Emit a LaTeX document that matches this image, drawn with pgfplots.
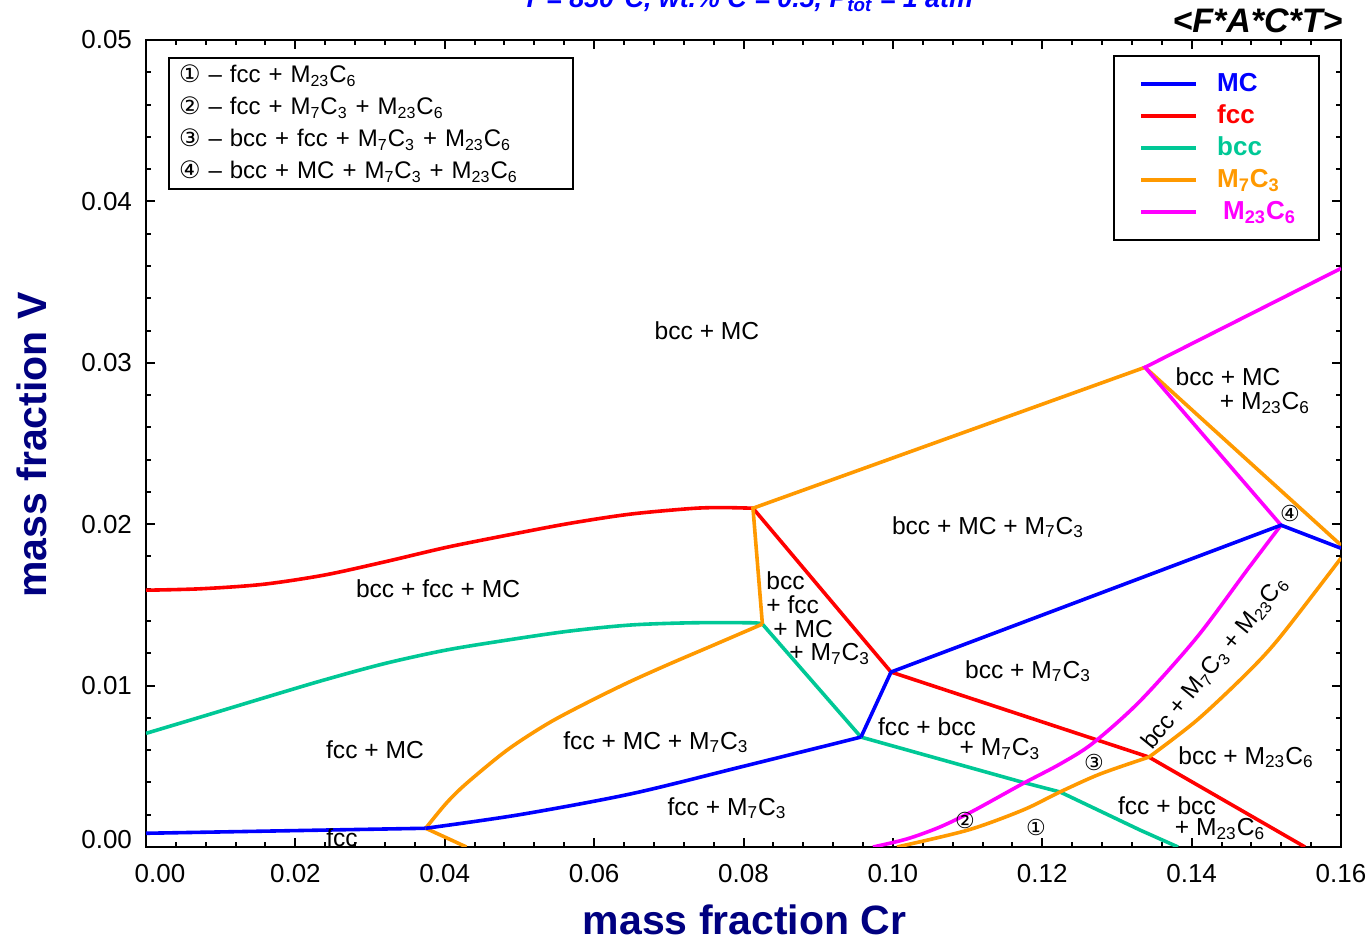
\documentclass[border=0pt]{standalone}
\usepackage{fontspec}
\setmainfont{Liberation Sans}
\newfontfamily\sym{DejaVu Sans}
\usepackage{pgfplots}
\pgfplotsset{compat=1.18}
\definecolor{cMC}{RGB}{0,0,255}
\definecolor{cfcc}{RGB}{255,0,0}
\definecolor{cbcc}{RGB}{0,200,150}
\definecolor{cMs}{RGB}{255,153,0}
\definecolor{cMt}{RGB}{255,0,255}
\definecolor{navy}{RGB}{0,0,128}
\newcommand{\MsC}{M\textsubscript{7}C\textsubscript{3}}
\newcommand{\MtC}{M\textsubscript{23}C\textsubscript{6}}
\newcommand{\lab}{\fontsize{12.3}{14.5}\selectfont}
\newcommand{\tnum}[1]{\pgfmathprintnumber[fixed,fixed zerofill,precision=2]{#1}}
\begin{document}
\begin{tikzpicture}
\path[use as bounding box] (-73pt,-47pt) rectangle (613pt,423.5pt);
\begin{axis}[
  name=ax,
  scale only axis, width=597.5pt, height=403.5pt,
  xmin=0, xmax=0.16, ymin=0, ymax=0.05,
  xtick={0,0.02,0.04,0.06,0.08,0.10,0.12,0.14,0.16},
  ytick={0,0.01,0.02,0.03,0.04,0.05},
  scaled ticks=false,
  /pgf/number format/assume math mode=true,
  xticklabel={\ifnum\ticknum=0\hspace*{14pt}\fi\tnum{\tick}},
  yticklabel={\ifnum\ticknum=0\raisebox{3.5pt}[\height][\depth]{\tnum{\tick}}\else\tnum{\tick}\fi},
  ticklabel style={font=\fontsize{13}{15}\selectfont},
  xticklabel style={yshift=-5pt},
  yticklabel style={xshift=-3.5pt},
  minor x tick num=4, minor y tick num=4,
  tick align=inside,
  major tick length=4.5pt, minor tick length=2.5pt,
  every tick/.style={black, line width=1pt},
  axis line style={line width=1.3pt},
  xlabel={mass fraction Cr},
  ylabel={mass fraction V},
  xlabel style={font=\fontsize{20.5}{24}\selectfont\bfseries, color=navy, at={(axis description cs:0.501,-0.0905)}, anchor=center},
  ylabel style={font=\fontsize{20.5}{24}\selectfont\bfseries, color=navy, at={(axis description cs:-0.0954,0.498)}, anchor=center},
  legend image code/.code={\path (0pt,0pt); \draw[#1] (3pt,0pt) -- (30.5pt,0pt);},
  legend cell align=left,
  legend style={at={(0.9824,0.9814)}, anchor=north east, draw=black, line width=1pt,
    font=\fontsize{13}{15}\selectfont\bfseries,
    inner xsep=10pt, inner ysep=6pt, column sep=8pt,
    nodes={inner sep=1.5pt, text height=10pt, text depth=3pt}},
]
% legend
\addlegendimage{cMC, line width=1.8pt}\addlegendentry{\textcolor{cMC}{MC}}
\addlegendimage{cfcc, line width=1.8pt}\addlegendentry{\textcolor{cfcc}{fcc}}
\addlegendimage{cbcc, line width=1.8pt}\addlegendentry{\textcolor{cbcc}{bcc}}
\addlegendimage{cMs, line width=1.8pt}\addlegendentry{\textcolor{cMs}{\MsC}}
\addlegendimage{cMt, line width=1.8pt}\addlegendentry{\textcolor{cMt}{\hspace{3pt}\MtC}}

% fcc (red)
\addplot[cfcc, line width=1.8pt, smooth, forget plot] coordinates {
(0,0.01591) (0.0074,0.0160) (0.01558,0.01627) (0.02379,0.01684) (0.03199,0.01767) (0.04018,0.01856)
(0.04837,0.01932) (0.05658,0.02004) (0.06478,0.02062) (0.07297,0.02097) (0.0770,0.02103) (0.08127,0.02099)};
\addplot[cfcc, line width=1.8pt, forget plot] coordinates {
(0.08127,0.02099) (0.09975,0.01084) (0.13429,0.00557) (0.15518,0)};

% bcc (teal)
\addplot[cbcc, line width=1.8pt, smooth, forget plot] coordinates {
(0,0.00704) (0.0078,0.00812) (0.01558,0.00921) (0.02379,0.01034) (0.03199,0.01137) (0.04018,0.0122)
(0.04837,0.01282) (0.05658,0.01337) (0.06478,0.01375) (0.07297,0.01389) (0.08116,0.01389) (0.08253,0.01381)};
\addplot[cbcc, line width=1.8pt, forget plot] coordinates {
(0.08253,0.01381) (0.09573,0.00681) (0.11729,0.00402) (0.12238,0.00341) (0.13309,0.00105) (0.13818,0)};

% M7C3 (orange)
\addplot[cMs, line width=1.8pt, forget plot] coordinates {
(0.16,0.0187) (0.13376,0.02972) (0.08127,0.02099) (0.08253,0.01381)};
\addplot[cMs, line width=1.8pt, smooth, forget plot] coordinates {
(0.03745,0.00116) (0.04018,0.0027) (0.04291,0.00394) (0.04837,0.00601) (0.05385,0.00766)
(0.05931,0.0090) (0.06478,0.01024) (0.07024,0.01137) (0.0757,0.01245) (0.08253,0.01381)};
\addplot[cMs, line width=1.8pt, forget plot] coordinates {(0.03745,0.00116) (0.0429,0)};
\addplot[cMs, line width=1.8pt, smooth, forget plot] coordinates {
(0.10055,0) (0.11006,0.00105) (0.11742,0.00229) (0.12238,0.00341) (0.12773,0.00452) (0.13429,0.00557)};
\addplot[cMs, line width=1.8pt, smooth, forget plot] coordinates {
(0.13429,0.00557) (0.14072,0.00786) (0.14741,0.01077) (0.15183,0.0130) (0.16,0.0179)};

% M23C6 (magenta)
\addplot[cMt, line width=1.8pt, forget plot] coordinates {
(0.16,0.03585) (0.13376,0.02972) (0.15197,0.01994)};
\addplot[cMt, line width=1.8pt, smooth, forget plot] coordinates {
(0.09734,0) (0.10189,0.0005) (0.10631,0.00124) (0.11073,0.00223) (0.11729,0.0039) (0.12238,0.00514)
(0.1268,0.00644) (0.13309,0.00904) (0.14072,0.0130) (0.14741,0.01715) (0.15197,0.01994)};

% MC (blue)
\addplot[cMC, line width=1.8pt, forget plot] coordinates {(0,0.00085) (0.03745,0.00116)};
\addplot[cMC, line width=1.8pt, smooth, forget plot] coordinates {
(0.03745,0.00116) (0.0500,0.0020) (0.0650,0.0033) (0.0800,0.0050) (0.09573,0.00681)};
\addplot[cMC, line width=1.8pt, forget plot] coordinates {
(0.09573,0.00681) (0.09975,0.01084) (0.15197,0.01994) (0.16,0.01851)};

% note box
\node[draw, line width=1pt, anchor=north west, inner xsep=5pt, inner ysep=2.5pt, align=left,
  text width=192pt, minimum height=65.5pt, fill=white, font=\fontsize{12}{16}\selectfont]
  at (axis cs:0.00295,0.04892)
  {{\sym ①} -- fcc + \MtC\\
   {\sym ②} -- fcc + \MsC{} + \MtC\\
   {\sym ③} -- bcc + fcc + \MsC{} + \MtC\\
   {\sym ④} -- bcc + MC + \MsC{} + \MtC};

% region labels
\node[font=\lab] at (axis cs:0.07511,0.03201) {bcc + MC};
\node[font=\lab] at (axis cs:0.11274,0.01981) {bcc + MC + \MsC};
\node[font=\lab] at (axis cs:0.0391,0.01598) {bcc + fcc + MC};
\node[font=\lab, anchor=west, inner sep=0pt] at (axis cs:0.08301,0.01647) {bcc};
\node[font=\lab, anchor=west, inner sep=0pt] at (axis cs:0.08301,0.01498) {+ fcc};
\node[font=\lab, anchor=west, inner sep=0pt] at (axis cs:0.08395,0.0135) {+ MC};
\node[font=\lab, anchor=west, inner sep=0pt] at (axis cs:0.08609,0.01195) {+ \MsC};
\node[font=\lab] at (axis cs:0.11809,0.0109) {bcc + \MsC};
\node[font=\lab] at (axis cs:0.03066,0.00601) {fcc + MC};
\node[font=\lab] at (axis cs:0.06828,0.0065) {fcc + MC + \MsC};
\node[font=\lab] at (axis cs:0.07779,0.00241) {fcc + \MsC};
\node[font=\lab] at (axis cs:0.10457,0.00743) {fcc + bcc};
\node[font=\lab] at (axis cs:0.11434,0.00607) {+ \MsC};
\node[font=\lab] at (axis cs:0.14487,0.02916) {bcc + MC};
\node[font=\lab] at (axis cs:0.14982,0.02749) {+ \MtC};
\node[font=\lab] at (axis cs:0.14728,0.00557) {bcc + \MtC};
\node[font=\lab] at (axis cs:0.1367,0.00254) {fcc + bcc};
\node[font=\lab] at (axis cs:0.1438,0.00111) {+ \MtC};
\node[font=\fontsize{12}{14}\selectfont, rotate=50.8, inner sep=0pt] at (axis cs:0.1431,0.01140) {bcc + \MsC{} + \MtC};
\node[font=\lab] at (axis cs:0.02624,0.00056) {fcc};
\node[font=\fontsize{11}{13}\selectfont\sym] at (axis cs:0.11916,0.00118) {①};
\node[font=\fontsize{11}{13}\selectfont\sym] at (axis cs:0.10966,0.00167) {②};
\node[font=\fontsize{11}{13}\selectfont\sym] at (axis cs:0.12693,0.00526) {③};
\node[font=\fontsize{11}{13}\selectfont\sym] at (axis cs:0.15316,0.02068) {④};
\end{axis}
\node[anchor=base west, inner sep=0pt, text=blue, font=\fontsize{13.4}{16}\selectfont\bfseries\itshape]
  at (188pt,419.75pt) {T = 850°C, wt.\% C = 0.5, P\textsubscript{tot} = 1 atm};
\node[anchor=base east, inner sep=0pt, font=\fontsize{17}{20}\selectfont\bfseries\itshape]
  at (598.5pt,407pt) {<F*A*C*T>};
\end{tikzpicture}
\end{document}
